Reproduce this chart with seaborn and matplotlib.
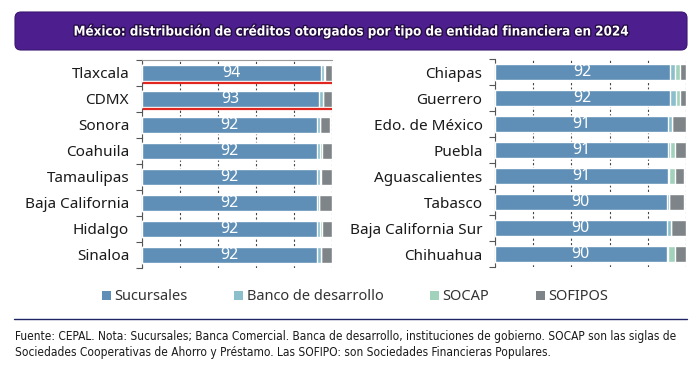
import numpy as np
import pandas as pd
import matplotlib.pyplot as plt
import seaborn as sns
from matplotlib.patches import FancyBboxPatch, Patch
from matplotlib.transforms import IdentityTransform
import matplotlib.patheffects as pe

# ---------------- data ----------------
left_states = ["Tlaxcala", "CDMX", "Sonora", "Coahuila", "Tamaulipas",
               "Baja California", "Hidalgo", "Sinaloa"]
left_sucursales = [94.1, 93.2, 92.2, 92.2, 92.2, 91.8, 92.2, 92.2]
left_banco = [1.8, 1.7, 1.4, 1.5, 1.3, 1.4, 1.4, 2.1]
left_socap = [0.3, 0.2, 0.0, 0.8, 0.7, 0.0, 1.2, 0.0]
left_sofipos = [3.8, 4.9, 5.2, 5.5, 5.8, 6.8, 5.2, 5.7]

right_states = ["Chiapas", "Guerrero", "Edo. de México", "Puebla",
                "Aguascalientes", "Tabasco", "Baja California Sur", "Chihuahua"]
right_sucursales = [91.6, 91.6, 90.8, 90.8, 90.8, 89.9, 89.9, 89.9]
right_banco = [2.6, 3.0, 2.0, 1.0, 0.5, 1.2, 2.2, 0.9]
right_socap = [2.6, 2.4, 0.0, 2.6, 3.0, 0.0, 0.0, 3.5]
right_sofipos = [3.2, 2.8, 7.0, 5.6, 4.8, 8.0, 7.9, 5.7]

series_names = ["Sucursales", "Banco de desarrollo", "SOCAP", "SOFIPOS"]
series_colors = ["#5f8fb6", "#8cbfcc", "#a2d2bb", "#7e8487"]

# highlighted rows (red underline)
highlight = ["Tlaxcala", "CDMX"]

title = "México: distribución de créditos otorgados por tipo de entidad financiera en 2024"
note = ("Fuente: CEPAL. Nota: Sucursales; Banca Comercial. Banca de desarrollo, instituciones de gobierno. "
        "SOCAP son las siglas de\nSociedades Cooperativas de Ahorro y Préstamo. "
        "Las SOFIPO: son Sociedades Financieras Populares.")

sns.set_theme(style="white")
plt.rcParams["font.family"] = ["Noto Sans", "DejaVu Sans"]

W, H = 700, 369
fig = plt.figure(figsize=(W / 100, H / 100), dpi=100)


def px_axes(x0, x1, ytop, ybot):
    return fig.add_axes([x0 / W, 1 - ybot / H, (x1 - x0) / W, (ybot - ytop) / H])


def draw_panel(ax, states, suc, banco, socap, sofipos, top_line=False):
    df = pd.DataFrame({"estado": states, "suc": suc, "banco": banco,
                       "socap": socap, "sofipos": sofipos})
    layers = [
        df["suc"] + df["banco"] + df["socap"] + df["sofipos"],
        df["suc"] + df["banco"] + df["socap"],
        df["suc"] + df["banco"],
        df["suc"],
    ]
    colors = series_colors[::-1]
    for vals, c in zip(layers, colors):
        sns.barplot(x=vals, y=df["estado"], ax=ax, color=c, saturation=1,
                    width=0.64, orient="h", errorbar=None, zorder=3)
    ax.bar_label(ax.containers[-1], labels=[f"{v:.0f}" for v in df["suc"]],
                 label_type="center", color="white", fontsize=11.5)

    ax.set_xlim(0, 100)
    ax.set_ylim(len(states) - 0.5, -0.5)
    ax.set_xlabel("")
    ax.set_ylabel("")
    ax.set_xticks([0, 20, 40, 60, 80, 100])
    ax.set_xticklabels([])
    ax.tick_params(axis="x", length=0)
    ax.set_axisbelow(True)
    ax.xaxis.grid(True, color="#444444", linestyle=(0, (2, 2)), linewidth=0.8)
    ax.tick_params(axis="y", which="major", length=0, pad=9, labelsize=11,
                   labelcolor="#1a1a1a")
    ax.set_yticks(np.arange(-0.5, len(states), 1), minor=True)
    ax.tick_params(axis="y", which="minor", length=4, width=0.8,
                   color="#555555", direction="out", left=True)
    for s in ["right", "bottom"]:
        ax.spines[s].set_visible(False)
    ax.spines["left"].set_color("#555555")
    ax.spines["left"].set_linewidth(0.8)
    if top_line:
        ax.spines["top"].set_color("#9a9a9a")
        ax.spines["top"].set_linewidth(0.8)
    else:
        ax.spines["top"].set_visible(False)

    for i, st in enumerate(states):
        if st in highlight:
            ax.plot([0.5, 100], [i + 0.37, i + 0.37], color="#e0261f",
                    linewidth=1.6, zorder=5, solid_capstyle="butt")


ax_l = px_axes(141.7, 332.3, 60, 268)
draw_panel(ax_l, left_states, left_sucursales, left_banco, left_socap,
           left_sofipos, top_line=True)
ax_r = px_axes(495, 686, 59, 267)
draw_panel(ax_r, right_states, right_sucursales, right_banco, right_socap,
           right_sofipos)

# title banner
box = FancyBboxPatch((15, H - 50), 672, 38,
                     boxstyle="round,pad=0,rounding_size=6",
                     transform=IdentityTransform(), facecolor="#4d1f8e",
                     edgecolor="#3a1570", linewidth=0.8)
fig.patches.append(box)
fig.text(352 / W, 1 - 32 / H, title, ha="center", va="center",
         color="white", fontsize=9.6, fontweight="bold",
         family="DejaVu Sans", fontstretch="condensed",
         path_effects=[pe.withStroke(linewidth=2, foreground="#250c45")])

# legend
handles = [Patch(facecolor=c, edgecolor="none") for c in series_colors]
fig.legend(handles, series_names, loc="center", bbox_to_anchor=(355 / W, 1 - 297 / H),
           ncol=4, frameon=False, fontsize=10.5, handlelength=0.6,
           handleheight=0.6, handletextpad=0.25, columnspacing=3.2,
           labelcolor="#333333")

# separator line + note
fig.add_artist(plt.Line2D([14 / W, 687 / W], [1 - 319 / H, 1 - 319 / H],
                          color="#1f2466", linewidth=1.0))
fig.text(15 / W, 1 - 344.5 / H, note, ha="left", va="center", fontsize=8.6,
         family="DejaVu Sans", fontstretch="condensed", color="#1a1a1a",
         linespacing=1.3)

fig.savefig("out.png", dpi=100, facecolor="white")
